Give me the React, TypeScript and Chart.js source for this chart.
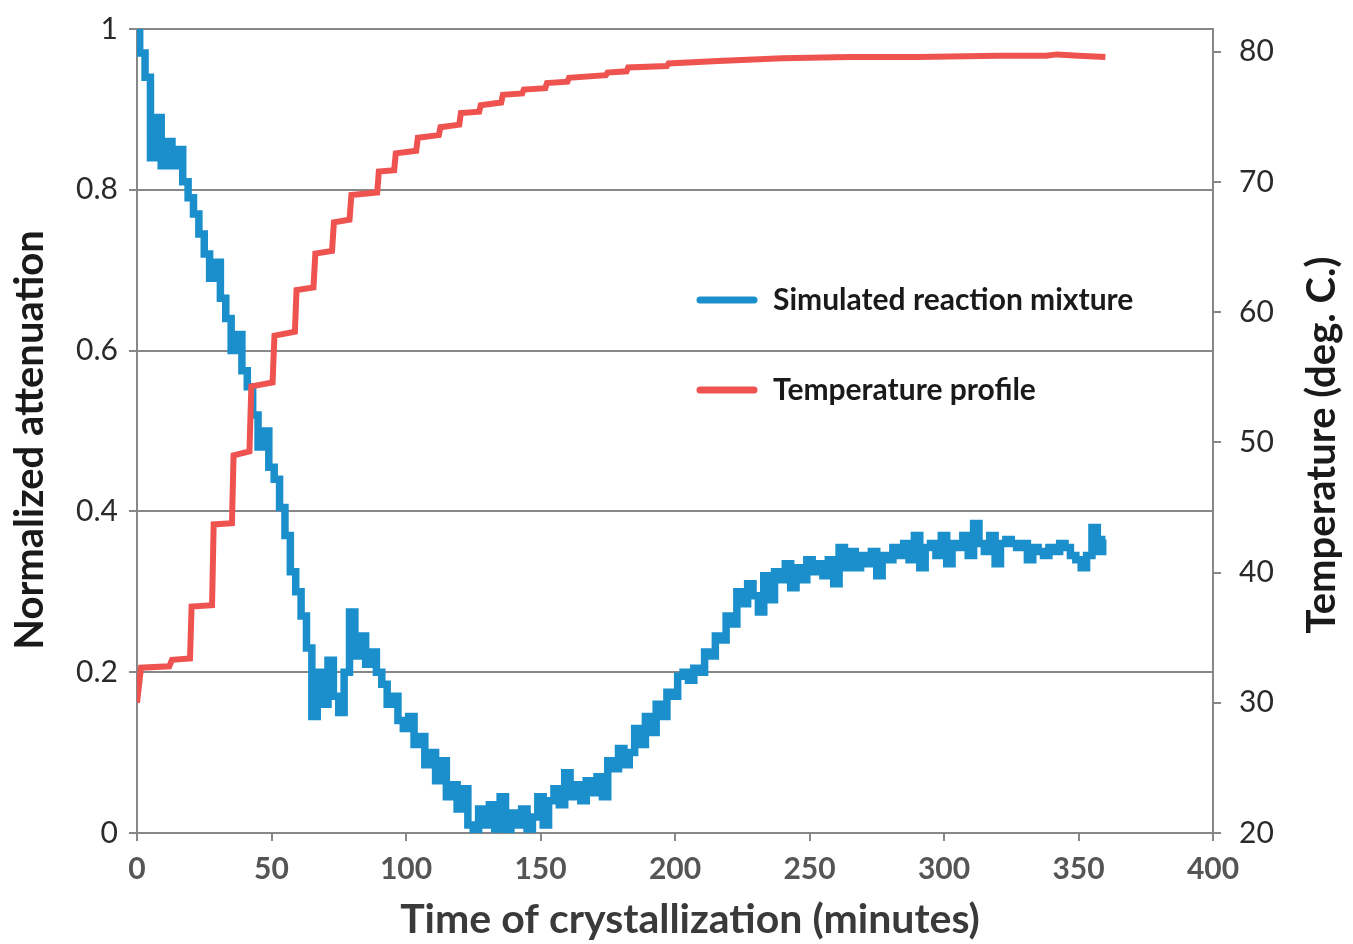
import React, { useEffect, useRef } from "react";
import { Chart, registerables } from "chart.js";

Chart.register(...registerables);

// ---------- DATA ----------
// Normalized attenuation, sampled every 2 minutes from 0 to 360 min
const attenuationStepMinutes = 2;
const attenuationValues = [
  1.0, 0.97, 0.94, 0.84, 0.89, 0.83, 0.86, 0.83, 0.85, 0.81,
  0.79, 0.77, 0.745, 0.72, 0.69, 0.71, 0.665, 0.64, 0.6, 0.62,
  0.575, 0.555, 0.52, 0.48, 0.5, 0.455, 0.44, 0.405, 0.37, 0.325,
  0.3, 0.27, 0.23, 0.145, 0.2, 0.16, 0.215, 0.17, 0.15, 0.2,
  0.275, 0.22, 0.245, 0.21, 0.225, 0.2, 0.185, 0.16, 0.17, 0.14,
  0.13, 0.145, 0.11, 0.12, 0.085, 0.1, 0.065, 0.09, 0.045, 0.06,
  0.03, 0.055, 0.01, 0.0, 0.03, 0.01, 0.035, 0.005, 0.045, 0.0,
  0.025, 0.01, 0.03, 0.005, 0.02, 0.045, 0.01, 0.04, 0.055, 0.035,
  0.075, 0.045, 0.06, 0.04, 0.065, 0.05, 0.07, 0.045, 0.09, 0.08,
  0.105, 0.085, 0.1, 0.13, 0.11, 0.145, 0.125, 0.16, 0.145, 0.175,
  0.17, 0.195, 0.2, 0.19, 0.205, 0.2, 0.225, 0.22, 0.245, 0.24,
  0.27, 0.26, 0.3, 0.285, 0.31, 0.295, 0.275, 0.32, 0.29, 0.325,
  0.315, 0.335, 0.305, 0.33, 0.315, 0.34, 0.325, 0.335, 0.32, 0.34,
  0.31, 0.355, 0.33, 0.35, 0.33, 0.345, 0.335, 0.35, 0.32, 0.345,
  0.34, 0.355, 0.345, 0.36, 0.34, 0.37, 0.33, 0.355, 0.36, 0.345,
  0.37, 0.335, 0.36, 0.355, 0.37, 0.345, 0.385, 0.36, 0.35, 0.37,
  0.335, 0.36, 0.365, 0.36, 0.355, 0.36, 0.34, 0.355, 0.35, 0.345,
  0.355, 0.35, 0.36, 0.355, 0.345, 0.34, 0.33, 0.345, 0.38, 0.35,
  0.365,
];

// Temperature profile (stepped heating), minutes and deg. C
const temperatureTimes = [
  0, 1.5, 12, 13, 19.7, 20.3, 27.9, 28.5, 35.3, 35.9,
  41.8, 42.5, 50.4, 51.1, 58.7, 59.3, 65.6, 66.3, 72.5, 73.2,
  79, 79.7, 89.3, 89.9, 95.6, 96.2, 103.8, 104.4, 112.2, 112.8,
  119.8, 120.4, 127.2, 127.8, 135.4, 136, 143.2, 143.8, 151.8, 152.4,
  160, 160.6, 174.3, 174.9, 182, 182.6, 197, 197.6, 216, 240,
  265, 290, 320, 338, 342, 350, 360,
];
const temperatureValues = [
  30.0, 32.7, 32.8, 33.3, 33.4, 37.4, 37.5, 43.7, 43.8, 49.0,
  49.3, 54.3, 54.6, 58.2, 58.5, 61.7, 61.9, 64.5, 64.7, 66.9,
  67.1, 69.0, 69.2, 70.8, 70.9, 72.2, 72.4, 73.4, 73.6, 74.2,
  74.4, 75.3, 75.4, 75.9, 76.1, 76.7, 76.8, 77.1, 77.2, 77.6,
  77.7, 78.0, 78.2, 78.4, 78.5, 78.8, 78.9, 79.1, 79.3, 79.5,
  79.6, 79.6, 79.7, 79.7, 79.8, 79.7, 79.6,
];

const seriesNames = ["Simulated reaction mixture", "Temperature profile"];
const xTickValues = [0, 50, 100, 150, 200, 250, 300, 350, 400];
const leftTickValues = [0, 0.2, 0.4, 0.6, 0.8, 1];
const rightTickValues = [20, 30, 40, 50, 60, 70, 80];
const xTitle = "Time of crystallization (minutes)";
const leftTitle = "Normalized attenuation";
const rightTitle = "Temperature (deg. C.)";

// ---------- STYLE ----------
const W = 1353;
const H = 944;
const BLUE = "#1b8fcc";
const RED = "#ee5350";
const GRID = "#878787";
const FONT = "Lato, 'Open Sans', sans-serif";

const overlayPlugin = {
  id: "overlay",
  afterDraw(chart: any) {
    const ctx = chart.ctx as CanvasRenderingContext2D;
    ctx.save();

    // Legend inside plot
    const legendItems = [
      { name: seriesNames[0], color: BLUE, y: 300 },
      { name: seriesNames[1], color: RED, y: 390 },
    ];
    legendItems.forEach((it) => {
      ctx.strokeStyle = it.color;
      ctx.lineWidth = 7;
      ctx.lineCap = "round";
      ctx.beginPath();
      ctx.moveTo(700, it.y);
      ctx.lineTo(754, it.y);
      ctx.stroke();
      ctx.fillStyle = "#1a1a1a";
      ctx.font = `bold 30px ${FONT}`;
      ctx.textAlign = "left";
      ctx.textBaseline = "middle";
      ctx.fillText(it.name, 773, it.y);
    });

    // X axis title
    ctx.fillStyle = "#3a3a3a";
    ctx.font = `bold 41px ${FONT}`;
    ctx.textAlign = "center";
    ctx.textBaseline = "middle";
    ctx.fillText(xTitle, 690, 920);

    // Left axis title
    ctx.fillStyle = "#1a1a1a";
    ctx.font = `bold 40px ${FONT}`;
    ctx.save();
    ctx.translate(30, 440);
    ctx.rotate(-Math.PI / 2);
    ctx.fillText(leftTitle, 0, 0);
    ctx.restore();

    // Right axis title
    ctx.save();
    ctx.translate(1322, 445);
    ctx.rotate(-Math.PI / 2);
    ctx.fillText(rightTitle, 0, 0);
    ctx.restore();

    ctx.restore();
  },
};

export default function App() {
  const canvasRef = useRef<HTMLCanvasElement | null>(null);

  useEffect(() => {
    document.body.style.margin = "0";
    const canvas = canvasRef.current;
    if (!canvas) return;

    const blueData = attenuationValues.map((v, i) => ({
      x: i * attenuationStepMinutes,
      y: v,
    }));
    const redData = temperatureTimes.map((t, i) => ({
      x: t,
      y: temperatureValues[i],
    }));

    const chart = new Chart(canvas, {
      type: "line",
      data: {
        datasets: [
          {
            label: seriesNames[1],
            data: redData,
            yAxisID: "y1",
            borderColor: RED,
            backgroundColor: RED,
            borderWidth: 6,
            pointRadius: 0,
            tension: 0,
          },
          {
            label: seriesNames[0],
            data: blueData,
            yAxisID: "y",
            borderColor: BLUE,
            backgroundColor: BLUE,
            borderWidth: 7.5,
            pointRadius: 0,
            tension: 0,
            stepped: "middle",
          },
        ],
      },
      options: {
        responsive: false,
        animation: false,
        layout: { padding: { top: 29, left: 0, right: 0, bottom: 0 } },
        plugins: {
          legend: { display: false },
          tooltip: { enabled: false },
        },
        scales: {
          x: {
            type: "linear",
            min: 0,
            max: 400,
            afterBuildTicks: (axis: any) => {
              axis.ticks = xTickValues.map((v) => ({ value: v }));
            },
            afterFit: (axis: any) => {
              axis.height = H - 833;
              axis.paddingLeft = 0;
              axis.paddingRight = 0;
            },
            grid: {
              drawOnChartArea: false,
              drawTicks: true,
              tickLength: 8,
              color: GRID,
              lineWidth: 2,
            },
            border: { display: true, color: GRID, width: 2 },
            ticks: {
              padding: 10,
              color: "#555",
              font: { family: FONT, size: 30, weight: "bold" },
              maxRotation: 0,
            },
          },
          y: {
            type: "linear",
            position: "left",
            min: 0,
            max: 1,
            afterBuildTicks: (axis: any) => {
              axis.ticks = leftTickValues.map((v) => ({ value: v }));
            },
            afterFit: (axis: any) => {
              axis.width = 137;
              axis.paddingTop = 0;
              axis.paddingBottom = 0;
            },
            grid: {
              drawTicks: true,
              tickLength: 8,
              color: GRID,
              lineWidth: 2,
            },
            border: { display: true, color: GRID, width: 2 },
            ticks: {
              padding: 11,
              color: "#2a2a2a",
              font: { family: FONT, size: 30 },
              callback: (v: any) => String(v),
            },
          },
          y1: {
            type: "linear",
            position: "right",
            min: 20,
            max: 81.75,
            afterBuildTicks: (axis: any) => {
              axis.ticks = rightTickValues.map((v) => ({ value: v }));
            },
            afterFit: (axis: any) => {
              axis.width = W - 1213;
              axis.paddingTop = 0;
              axis.paddingBottom = 0;
            },
            grid: {
              drawOnChartArea: false,
              drawTicks: true,
              tickLength: 8,
              color: GRID,
              lineWidth: 2,
            },
            border: { display: true, color: GRID, width: 2 },
            ticks: {
              padding: 18,
              color: "#2a2a2a",
              font: { family: FONT, size: 30 },
            },
          },
        },
      },
      plugins: [overlayPlugin],
    } as any);

    return () => chart.destroy();
  }, []);

  return (
    <div style={{ position: "absolute", left: 0, top: 0, width: W, height: H, background: "#fff" }}>
      <canvas ref={canvasRef} width={W} height={H} style={{ width: W, height: H, display: "block" }} />
    </div>
  );
}
